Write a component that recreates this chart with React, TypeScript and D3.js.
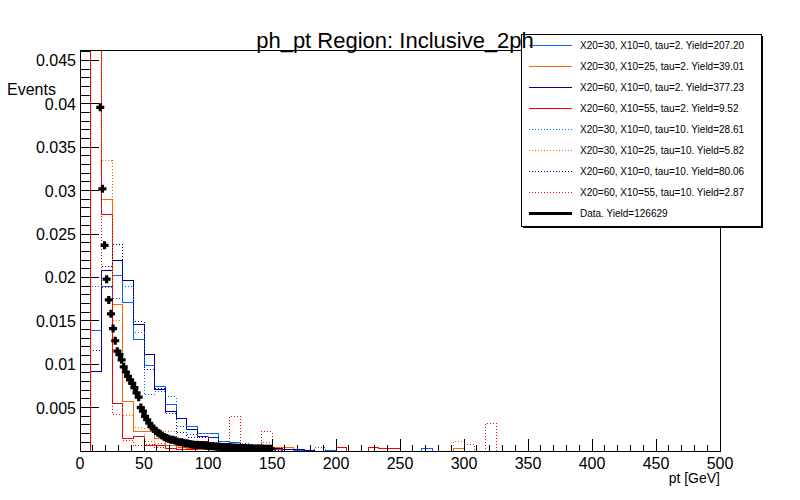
import React, { useEffect, useRef } from "react";
import * as d3 from "d3";

const width = 800;
const height = 500;

// MC histograms: 60 bins of 500/60 GeV, normalised to unit area.
// Bins past the end of each array are empty.
const nBins = 60;
const xMax = 500;

const blueTau2 = [0, 0.0139, 0.0189, 0.0202, 0.0171, 0.0128, 0.0098, 0.0074, 0.0053, 0.0038, 0.0028, 0.002, 0.002, 0.0011, 0.001, 0.0006, 0.0004, 0.0003, 0.0002, 0.0002, 0.0001, 0.0001, 0, 0.0001, 0, 0, 0, 0, 0, 0, 0, 0, 0.0003];
const orangeTau2 = [0, 0.06, 0.029, 0.0169, 0.0057, 0.0022, 0.0022, 0.0014, 0.0006, 0.0004, 0.0003, 0.0002, 0.0002, 0.0001, 0, 0, 0, 0, 0.0004, 0.0004, 0, 0, 0, 0, 0, 0, 0, 0, 0, 0, 0, 0, 0, 0, 0, 0.0003];
const navyTau2 = [0, 0.0092, 0.0208, 0.0219, 0.0196, 0.0146, 0.0111, 0.0071, 0.0046, 0.0037, 0.0025, 0.0017, 0.0015, 0.0009, 0.0008, 0.0006, 0.0005, 0.0004, 0.0003, 0.0002, 0.0002, 0.0001];
const redTau2 = [0, 0.082, 0.0272, 0.0055, 0.0014, 0.0017, 0.0006, 0.0006, 0.0003, 0.0002, 0.0002, 0.0011, 0.0002, 0, 0, 0, 0, 0.0002, 0.0002, 0, 0, 0, 0, 0, 0.0004, 0, 0, 0.0004, 0.0003, 0.0003];
const blueTau10 = [0, 0.019, 0.0188, 0.0176, 0.019, 0.0136, 0.0065, 0.0068, 0.0063, 0.0028, 0.0019, 0.0017, 0.0015, 0.0009, 0.0006, 0.0009, 0.0005, 0.0003, 0, 0, 0, 0, 0.0004];
const orangeTau10 = [0, 0.054, 0.0335, 0.015, 0.0041, 0.0027, 0.0011, 0.0009, 0.0022, 0.0006, 0.0004, 0.002, 0.0005, 0, 0.0003, 0, 0, 0.001, 0, 0, 0, 0, 0, 0, 0, 0, 0, 0, 0, 0, 0, 0, 0, 0, 0, 0.0011];
const navyTau10 = [0, 0.0116, 0.0213, 0.0238, 0.0197, 0.0149, 0.0094, 0.0072, 0.0043, 0.0021, 0.0016, 0.0015, 0.001, 0.0006, 0.0004, 0.0003, 0.0004, 0.0002, 0.0001];
const redTau10 = [0, 0.083, 0.0189, 0.0042, 0.0012, 0.0006, 0.0008, 0.0004, 0.0003, 0.0002, 0, 0.0003, 0, 0, 0.004, 0, 0, 0.0022, 0, 0, 0, 0, 0, 0, 0, 0, 0, 0, 0, 0, 0, 0, 0, 0, 0, 0, 0.0007, 0, 0.0032];

const legendLabels = [
  "X20=30, X10=0, tau=2. Yield=207.20",
  "X20=30, X10=25, tau=2. Yield=39.01",
  "X20=60, X10=0, tau=2. Yield=377.23",
  "X20=60, X10=55, tau=2. Yield=9.52",
  "X20=30, X10=0, tau=10. Yield=28.61",
  "X20=30, X10=25, tau=10. Yield=5.82",
  "X20=60, X10=0, tau=10. Yield=80.06",
  "X20=60, X10=55, tau=10. Yield=2.87",
];
const dataLabel = "Data. Yield=126629";

// data: 300 bins over 0-500 GeV, first filled bin is #9
const dataBins = 300;
const dataFirstBin = 9;
const dataValues = [
  0.0396, 0.0302, 0.0237, 0.0198, 0.0174, 0.0158, 0.0141, 0.0127, 0.0115, 0.0111,
  0.0105, 0.0097, 0.0091, 0.0086, 0.0082, 0.0078, 0.0073, 0.0067, 0.0062, 0.005,
  0.0046, 0.004, 0.0036, 0.0032, 0.0028, 0.0026, 0.0023, 0.0021, 0.002, 0.0018,
  0.0016, 0.0015, 0.0014, 0.0013, 0.0013, 0.0012, 0.0011, 0.001, 0.001, 0.00095,
  0.0009, 0.00085, 0.0008, 0.00076, 0.00073, 0.0007, 0.0007, 0.00068, 0.00065, 0.00062,
  0.0006, 0.00058, 0.00056, 0.00054, 0.00052, 0.0005, 0.00048, 0.00046, 0.00045, 0.00044,
  0.00043, 0.00042, 0.0004, 0.00039, 0.00038, 0.00037, 0.00036, 0.00035, 0.00034, 0.00033,
  0.00032, 0.00031, 0.0003, 0.0003, 0.00029, 0.00028, 0.00028, 0.00027, 0.00026, 0.00026,
  0.00025,
];

const series = [
  { values: blueTau2, color: "#0066ff", dotted: false },
  { values: orangeTau2, color: "#ff6600", dotted: false },
  { values: navyTau2, color: "#000099", dotted: false },
  { values: redTau2, color: "#ff0000", dotted: false },
  { values: blueTau10, color: "#0066ff", dotted: true },
  { values: orangeTau10, color: "#ff6600", dotted: true },
  { values: navyTau10, color: "#000099", dotted: true },
  { values: redTau10, color: "#ff0000", dotted: true },
];

const font = "'Liberation Sans', Arial, Helvetica, sans-serif";

export default function App() {
  const svgRef = useRef<SVGSVGElement>(null);

  useEffect(() => {
    const svg = d3.select(svgRef.current);
    svg.selectAll("*").remove();

    const left = 80, right = 720, top = 50, bottom = 451;
    const x = d3.scaleLinear().domain([0, xMax]).range([left, right]);
    const y = d3.scaleLinear().domain([0, 0.0462]).range([bottom, top]);
    const binW = xMax / nBins;

    svg.append("rect").attr("width", width).attr("height", height).attr("fill", "#fff");

    svg
      .append("defs")
      .append("clipPath")
      .attr("id", "frame-clip")
      .append("rect")
      .attr("x", left)
      .attr("y", top)
      .attr("width", right - left)
      .attr("height", bottom - top);

    const plot = svg.append("g").attr("clip-path", "url(#frame-clip)");

    // step outline like ROOT's "hist" option
    const histPath = (vals: number[]) => {
      const p = d3.path();
      p.moveTo(x(0), y(0));
      for (let i = 0; i < nBins; i++) {
        const v = vals[i] ?? 0;
        p.lineTo(x(i * binW), y(v));
        p.lineTo(x((i + 1) * binW), y(v));
      }
      p.lineTo(x(xMax), y(0));
      return p.toString();
    };

    plot
      .selectAll(".hist")
      .data(series)
      .enter()
      .append("path")
      .attr("class", "hist")
      .attr("d", (d) => histPath(d.values))
      .attr("fill", "none")
      .attr("stroke", (d) => d.color)
      .attr("stroke-width", 1)
      .attr("stroke-dasharray", (d) => (d.dotted ? "1,2" : null))
      .attr("shape-rendering", "crispEdges");

    // data markers (full cross)
    const a = 4, t = 1.6;
    const cross = `M${-a},${-t}H${-t}V${-a}H${t}V${-t}H${a}V${t}H${t}V${a}H${-t}V${t}H${-a}Z`;
    const dataW = xMax / dataBins;
    plot
      .selectAll(".pt")
      .data(dataValues)
      .enter()
      .append("path")
      .attr("class", "pt")
      .attr("d", cross)
      .attr("fill", "#000")
      .attr("transform", (d, i) => `translate(${x((dataFirstBin + i + 0.5) * dataW)},${y(d)})`);

    // frame
    svg
      .append("rect")
      .attr("x", left)
      .attr("y", top)
      .attr("width", right - left)
      .attr("height", bottom - top)
      .attr("fill", "none")
      .attr("stroke", "#000")
      .attr("stroke-width", 1)
      .attr("shape-rendering", "crispEdges");

    const axes = svg.append("g").attr("stroke", "#000").attr("shape-rendering", "crispEdges");

    // x ticks
    const xMinor = d3.range(0, xMax + 1, 10);
    axes
      .selectAll(".xt")
      .data(xMinor)
      .enter()
      .append("line")
      .attr("x1", (d) => x(d))
      .attr("x2", (d) => x(d))
      .attr("y1", bottom)
      .attr("y2", (d) => (d % 50 === 0 ? bottom - 12 : bottom - 6));

    // y ticks
    const yMinor = d3.range(0, 0.0461, 0.001);
    axes
      .selectAll(".yt")
      .data(yMinor)
      .enter()
      .append("line")
      .attr("y1", (d) => y(d))
      .attr("y2", (d) => y(d))
      .attr("x1", left)
      .attr("x2", (d, i) => (i % 5 === 0 ? left + 19 : left + 9.6));

    const xLabels = d3.range(0, xMax + 1, 50);
    svg
      .selectAll(".xl")
      .data(xLabels)
      .enter()
      .append("text")
      .attr("x", (d) => x(d))
      .attr("y", 469)
      .attr("text-anchor", "middle")
      .style("font-family", font)
      .style("font-size", "16px")
      .text((d) => d);

    const yLabels = d3.range(0.005, 0.0461, 0.005);
    svg
      .selectAll(".yl")
      .data(yLabels)
      .enter()
      .append("text")
      .attr("x", 76)
      .attr("y", (d) => y(d) + 6)
      .attr("text-anchor", "end")
      .style("font-family", font)
      .style("font-size", "16px")
      .text((d) => String(+d.toFixed(3)));

    svg
      .append("text")
      .attr("x", 7)
      .attr("y", 95)
      .style("font-family", font)
      .style("font-size", "16px")
      .text("Events");

    svg
      .append("text")
      .attr("x", 720)
      .attr("y", 483)
      .attr("text-anchor", "end")
      .style("font-family", font)
      .style("font-size", "14px")
      .text("pt [GeV]");

    // legend
    const lg = svg.append("g");
    const lx = 521, ly = 34, lw = 240, lh = 192;
    lg.append("rect").attr("x", lx + 2).attr("y", ly + 2).attr("width", lw).attr("height", lh).attr("fill", "#000");
    lg.append("rect")
      .attr("x", lx)
      .attr("y", ly)
      .attr("width", lw)
      .attr("height", lh)
      .attr("fill", "#fff")
      .attr("stroke", "#000")
      .attr("shape-rendering", "crispEdges");

    const rowY = (i: number) => 45 + i * 21.1;
    const rows = series.map((s, i) => ({ ...s, label: legendLabels[i], w: 1 }));
    rows.push({ values: dataValues, color: "#000", dotted: false, label: dataLabel, w: 3 });

    const row = lg
      .selectAll(".row")
      .data(rows)
      .enter()
      .append("g")
      .attr("transform", (d, i) => `translate(0,${rowY(i)})`);
    row
      .append("line")
      .attr("x1", 529)
      .attr("x2", 572)
      .attr("stroke", (d) => d.color)
      .attr("stroke-width", (d) => d.w)
      .attr("stroke-dasharray", (d) => (d.dotted ? "1,2" : null))
      .attr("shape-rendering", "crispEdges");
    row
      .append("text")
      .attr("x", 580)
      .attr("y", 3.5)
      .style("font-family", font)
      .style("font-size", "10px")
      .text((d) => d.label);

    // title drawn last so it sits above the legend box
    svg
      .append("text")
      .attr("x", 395)
      .attr("y", 48)
      .attr("text-anchor", "middle")
      .style("font-family", font)
      .style("font-size", "22px")
      .text("ph_pt Region: Inclusive_2ph");
  }, []);

  return (
    <svg
      ref={svgRef}
      width={width}
      height={height}
      style={{ position: "absolute", left: 0, top: 0, display: "block" }}
    ></svg>
  );
}
